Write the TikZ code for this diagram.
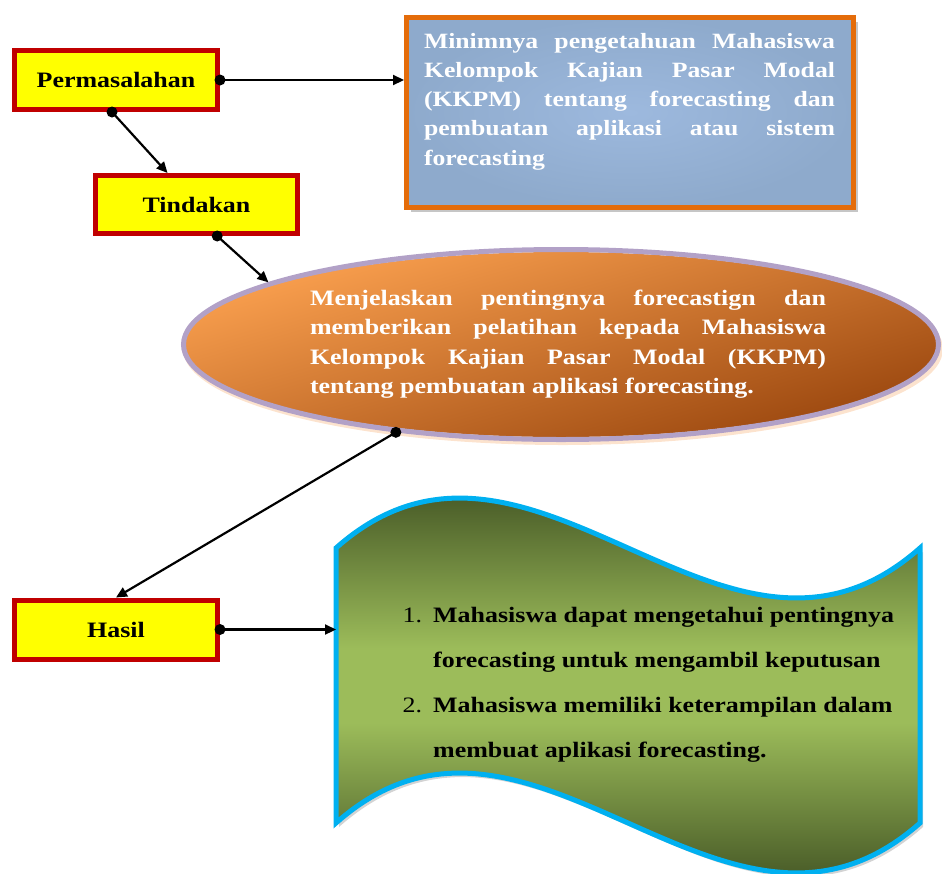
\documentclass[tikz,border=0pt]{standalone}
\usepackage{fontspec}
\setmainfont{Liberation Serif}[FakeStretch=1.18]
\usetikzlibrary{arrows.meta,shapes.geometric,calc,shadows}
\definecolor{yel}{HTML}{FFFF00}
\definecolor{redb}{HTML}{C00000}
\definecolor{bluefillA}{HTML}{9DB9DE}
\definecolor{bluefillB}{HTML}{8EAACC}
\definecolor{orangeb}{HTML}{E46C0A}
\definecolor{lavb}{HTML}{B2A1C7}
\definecolor{ellA}{HTML}{F69C4C}
\definecolor{ellB}{HTML}{A04C12}
\definecolor{cyanb}{HTML}{00B0F0}
\definecolor{olA}{HTML}{4B5E29}
\definecolor{olB}{HTML}{9CBC5A}
\colorlet{olM}{olA!50!olB}
\pgfdeclareverticalshading{waveshade}{100bp}{color(0bp)=(olA); color(25bp)=(olA); color(35bp)=(olM); color(45bp)=(olB); color(55bp)=(olB); color(65bp)=(olM); color(75bp)=(olA); color(100bp)=(olA)}
\newcommand{\nohyph}{\hyphenpenalty=10000\relax}
\begin{document}
\begin{tikzpicture}[x=1pt,y=-1pt,
  lbl/.style={draw=redb, line width=5pt, fill=yel, minimum width=203pt, minimum height=59pt,
    inner sep=0pt, font=\fontsize{22}{26}\selectfont\bfseries, text=black},
  probbox/.style={draw=orangeb, line width=5pt, inner color=bluefillA, outer color=bluefillB,
    minimum width=447pt, minimum height=190pt, inner sep=0pt,
    drop shadow={shadow xshift=4pt, shadow yshift=-4pt, fill=gray, opacity=0.45}},
  probtext/.style={text width=411pt, align=justify, inner sep=0pt, text=white,
    font=\fontsize{21.8}{29.2}\selectfont\bfseries\nohyph},
  ellbox/.style={ellipse, draw=lavb, line width=5pt,
    minimum width=755pt, minimum height=190pt, inner sep=0pt},
  elltext/.style={text width=516pt, align=justify, inner sep=0pt, text=white,
    font=\fontsize{22}{29.5}\selectfont\bfseries\nohyph},
  wavetext/.style={align=left, inner sep=0pt, text=black,
    font=\fontsize{22}{45}\selectfont\bfseries},
  conn/.style={line width=2.2pt, -{Triangle[length=11pt,width=10pt]}},
  dotc/.style={fill=black}
]
\useasboundingbox (0,0) rectangle (942,873);

% blue problem box
\node[probbox] (prob) at (630,112.5) {};
\node[probtext] (probt) at (629.5,101.5) {Minimnya pengetahuan Mahasiswa\linebreak
Kelompok Kajian Pasar Modal\linebreak
(KKPM) tentang forecasting dan\linebreak
pembuatan aplikasi atau sistem\linebreak
forecasting};

% ellipse: shadow, shaded fill, border node
\fill[ellA!55!white, opacity=0.5] (563,349) ellipse[x radius=380, y radius=96];
\begin{scope}[transform canvas={shift={(561,344.5)}, xscale=4.0811}]
  \path[top color=ellA, bottom color=ellB, shading angle=50] (0,0) circle[radius=92.5pt];
\end{scope}
\node[ellbox] (ell) at (561,344.5) {};
\node[elltext] (ellt) at (568,344) {Menjelaskan pentingnya forecastign dan\linebreak
memberikan pelatihan kepada Mahasiswa\linebreak
Kelompok Kajian Pasar Modal (KKPM)\linebreak
tentang pembuatan aplikasi forecasting.};

% wave: shadow, shaded fill, border
\fill[gray, opacity=0.35] (339,552) .. controls (534,379) and (728,725) .. (923,552)
  -- (923,827) .. controls (728,1000) and (534,654) .. (339,827) -- cycle;
\begin{scope}
  \clip (336,548) .. controls (531,375) and (725,721) .. (920,548)
    -- (920,823) .. controls (725,996) and (531,650) .. (336,823) -- cycle;
  \shade[shading=waveshade] (330,498) rectangle (926,873);
\end{scope}
\draw[cyanb, line width=5pt] (336,548) .. controls (531,375) and (725,721) .. (920,548)
  -- (920,823) .. controls (725,996) and (531,650) .. (336,823) -- cycle;
\coordinate (wavel) at (336,629.5);
\node[wavetext, anchor=west] (list) at (433,685) {%
\llap{\mdseries 1.\hspace{11pt}}Mahasiswa dapat mengetahui pentingnya\\
forecasting untuk mengambil keputusan\\
\llap{\mdseries 2.\hspace{11pt}}Mahasiswa memiliki keterampilan dalam\\
membuat aplikasi forecasting.};

% label boxes
\node[lbl] (perm) at (116,80) {Permasalahan};
\node[lbl, minimum width=202pt, minimum height=58pt] (tind) at (196.5,204.5) {Tindakan};
\node[lbl] (hasil) at (116,629.5) {Hasil};

% connectors
\coordinate (pb) at ($(perm.south)+(-4,0)$);
\coordinate (tt) at ($(tind.north west)!0.36!(tind.north east)$);
\coordinate (tb) at ($(tind.south west)!0.6!(tind.south east)$);

\draw[conn] (perm.east) -- (prob.west |- perm.east);
\fill[dotc] (perm.east) circle[radius=5.5pt];
\draw[conn] (pb) -- (tt);
\fill[dotc] (pb) circle[radius=5.5pt];
\draw[conn] (tb) -- (ell.168);
\fill[dotc] (tb) circle[radius=5.5pt];
\draw[conn] (ell.208) -- (hasil.north);
\fill[dotc] (ell.208) circle[radius=5.5pt];
\draw[conn] (hasil.east) -- (wavel);
\fill[dotc] (hasil.east) circle[radius=5.5pt];
\end{tikzpicture}
\end{document}
